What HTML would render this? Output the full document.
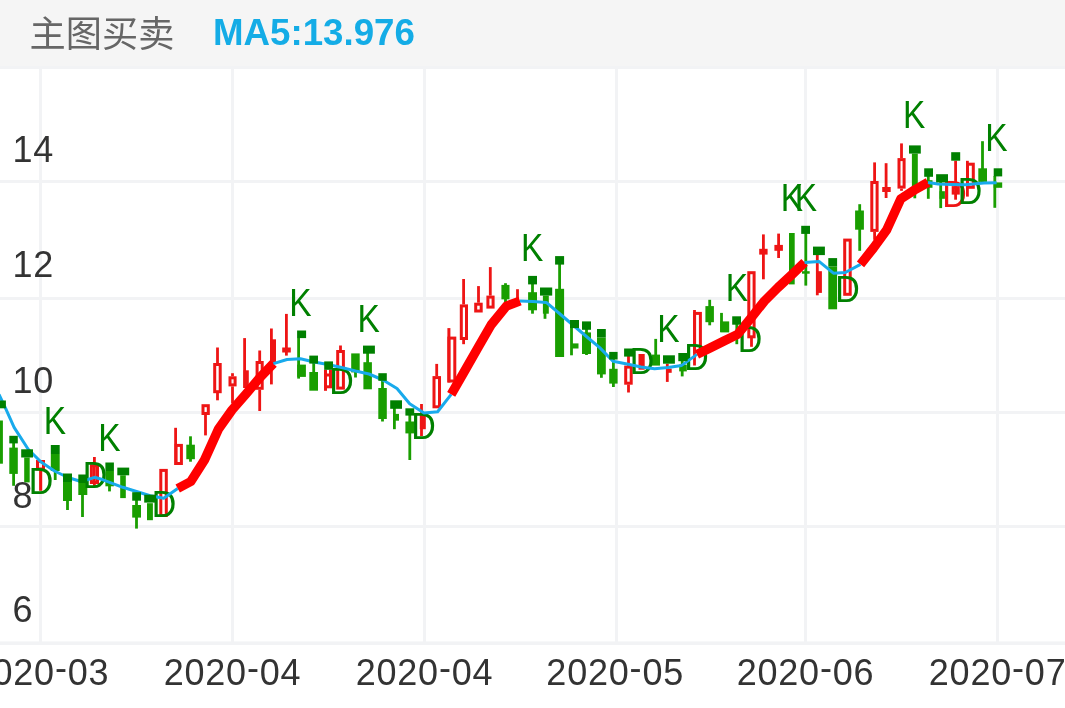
<!DOCTYPE html>
<html lang="zh-CN">
<head>
<meta charset="utf-8">
<title>主图买卖</title>
<style>
html,body{margin:0;padding:0;background:#fff;}
body{width:1065px;height:708px;overflow:hidden;position:relative;font-family:"Liberation Sans","Noto Sans CJK SC",sans-serif;}
#hdr{position:absolute;left:0;top:0;width:1065px;height:68px;background:#f5f5f5;}
#hdr .t{position:absolute;left:29.6px;top:9px;font-size:36.2px;line-height:52px;color:#666;white-space:nowrap;font-family:"Liberation Sans","Noto Sans CJK SC",sans-serif;}
#hdr .m{position:absolute;left:213px;top:7px;font-size:36.7px;line-height:52px;color:#14ace6;font-weight:bold;white-space:nowrap;}
svg{position:absolute;left:0;top:0;}
.ax{font-family:"Liberation Sans",sans-serif;font-size:36px;fill:#333;letter-spacing:0.8px;}
.kd{font-family:"Liberation Sans",sans-serif;font-size:38px;text-anchor:middle;}
</style>
</head>
<body>
<div id="hdr"><span class="t">主图买卖</span><span class="m">MA5:13.976</span></div>
<svg width="1065" height="708" viewBox="0 0 1065 708">
<g id="grid">
<rect x="39" y="66" width="3" height="578" fill="#f2f3f5"/>
<rect x="231" y="66" width="3" height="578" fill="#f2f3f5"/>
<rect x="423" y="66" width="3" height="578" fill="#f2f3f5"/>
<rect x="615" y="66" width="3" height="578" fill="#f2f3f5"/>
<rect x="804" y="66" width="3" height="578" fill="#f2f3f5"/>
<rect x="996" y="66" width="3" height="578" fill="#f2f3f5"/>
<rect x="0" y="66" width="1065" height="3" fill="#f2f3f5"/>
<rect x="0" y="180" width="1065" height="3" fill="#f2f3f5"/>
<rect x="0" y="297" width="1065" height="3" fill="#f2f3f5"/>
<rect x="0" y="411" width="1065" height="3" fill="#f2f3f5"/>
<rect x="0" y="525" width="1065" height="3" fill="#f2f3f5"/>
<rect x="0" y="641.4" width="1065" height="3.6" fill="#f2f3f5"/>
</g>
<g id="xlabels">
<text x="40.5" y="684.5" class="ax" text-anchor="middle">2020<tspan dy="-4.3">-</tspan><tspan dy="4.3">03</tspan></text>
<text x="232.5" y="684.5" class="ax" text-anchor="middle">2020<tspan dy="-4.3">-</tspan><tspan dy="4.3">04</tspan></text>
<text x="424.5" y="684.5" class="ax" text-anchor="middle">2020<tspan dy="-4.3">-</tspan><tspan dy="4.3">04</tspan></text>
<text x="615.2" y="684.5" class="ax" text-anchor="middle">2020<tspan dy="-4.3">-</tspan><tspan dy="4.3">05</tspan></text>
<text x="805.5" y="684.5" class="ax" text-anchor="middle">2020<tspan dy="-4.3">-</tspan><tspan dy="4.3">06</tspan></text>
<text x="1066.5" y="684.5" class="ax" text-anchor="end">2020<tspan dy="-4.3">-</tspan><tspan dy="4.3">07</tspan></text>
</g>
<g id="candles" shape-rendering="auto">
<rect x="-4.0" y="420.5" width="6.9" height="43.2" fill="rgb(25,158,0)"/>
<rect x="12.2" y="443.0" width="2.8" height="42.8" fill="rgb(25,158,0)"/>
<rect x="9.3" y="447.6" width="8.5" height="26.3" fill="rgb(25,158,0)"/>
<rect x="24.2" y="457.5" width="5.5" height="24.9" fill="rgb(25,158,0)"/>
<rect x="37.5" y="461.5" width="6.0" height="7.5" fill="none" stroke="rgb(238,21,21)" stroke-width="3"/>
<rect x="39.1" y="470.0" width="3.1" height="20.8" fill="rgb(238,21,21)"/>
<rect x="50.8" y="454.0" width="8.9" height="17.0" fill="rgb(25,158,0)"/>
<rect x="53.8" y="471.0" width="2.8" height="9.0" fill="rgb(25,158,0)"/>
<rect x="63.0" y="482.0" width="9.0" height="19.0" fill="rgb(25,158,0)"/>
<rect x="66.1" y="501.0" width="2.8" height="9.0" fill="rgb(25,158,0)"/>
<rect x="78.3" y="483.0" width="9.0" height="12.0" fill="rgb(25,158,0)"/>
<rect x="81.1" y="495.0" width="2.8" height="22.0" fill="rgb(25,158,0)"/>
<rect x="93.0" y="457.0" width="2.8" height="29.4" fill="rgb(238,21,21)"/>
<rect x="91.4" y="465.7" width="6.1" height="16.8" fill="none" stroke="rgb(238,21,21)" stroke-width="3"/>
<rect x="105.4" y="471.0" width="8.5" height="15.3" fill="rgb(25,158,0)"/>
<rect x="108.1" y="486.0" width="2.8" height="5.4" fill="rgb(25,158,0)"/>
<rect x="120.2" y="475.3" width="5.6" height="22.8" fill="rgb(25,158,0)"/>
<rect x="135.1" y="500.0" width="2.8" height="28.6" fill="rgb(25,158,0)"/>
<rect x="132.2" y="505.0" width="8.8" height="12.6" fill="rgb(25,158,0)"/>
<rect x="147.0" y="503.2" width="5.9" height="17.0" fill="rgb(25,158,0)"/>
<rect x="160.8" y="470.4" width="5.5" height="45.1" fill="none" stroke="rgb(238,21,21)" stroke-width="3"/>
<rect x="174.2" y="427.8" width="2.8" height="37.2" fill="rgb(238,21,21)"/>
<rect x="176.1" y="445.4" width="5.3" height="18.1" fill="none" stroke="rgb(238,21,21)" stroke-width="3"/>
<rect x="189.1" y="436.3" width="2.8" height="25.4" fill="rgb(25,158,0)"/>
<rect x="186.3" y="444.7" width="8.6" height="14.5" fill="rgb(25,158,0)"/>
<rect x="203.0" y="405.7" width="5.3" height="7.8" fill="none" stroke="rgb(238,21,21)" stroke-width="3"/>
<rect x="204.1" y="415.0" width="2.8" height="20.4" fill="rgb(238,21,21)"/>
<rect x="216.1" y="347.5" width="2.8" height="15.5" fill="rgb(238,21,21)"/>
<rect x="214.7" y="364.5" width="5.5" height="27.2" fill="none" stroke="rgb(238,21,21)" stroke-width="3"/>
<rect x="216.1" y="393.0" width="2.8" height="7.3" fill="rgb(238,21,21)"/>
<rect x="231.1" y="373.2" width="2.8" height="3.1" fill="rgb(238,21,21)"/>
<rect x="230.0" y="377.8" width="5.1" height="7.1" fill="none" stroke="rgb(238,21,21)" stroke-width="3"/>
<rect x="231.1" y="386.4" width="2.8" height="17.0" fill="rgb(238,21,21)"/>
<rect x="243.2" y="338.1" width="2.8" height="49.9" fill="rgb(238,21,21)"/>
<rect x="243.5" y="370.3" width="5.3" height="17.7" fill="rgb(238,21,21)"/>
<rect x="258.3" y="350.5" width="2.8" height="10.5" fill="rgb(238,21,21)"/>
<rect x="257.1" y="362.5" width="5.1" height="25.8" fill="none" stroke="rgb(238,21,21)" stroke-width="3"/>
<rect x="258.3" y="389.8" width="2.8" height="21.2" fill="rgb(238,21,21)"/>
<rect x="270.0" y="328.5" width="2.8" height="55.9" fill="rgb(238,21,21)"/>
<rect x="270.3" y="339.3" width="5.7" height="24.7" fill="rgb(238,21,21)"/>
<rect x="285.0" y="313.9" width="2.8" height="41.7" fill="rgb(238,21,21)"/>
<rect x="282.2" y="347.5" width="8.6" height="5.0" fill="rgb(238,21,21)"/>
<rect x="297.2" y="338.0" width="2.8" height="40.6" fill="rgb(25,158,0)"/>
<rect x="297.2" y="364.6" width="8.7" height="12.3" fill="rgb(25,158,0)"/>
<rect x="312.3" y="363.0" width="2.8" height="9.0" fill="rgb(25,158,0)"/>
<rect x="309.3" y="372.0" width="8.7" height="18.7" fill="rgb(25,158,0)"/>
<rect x="325.5" y="375.0" width="5.0" height="11.8" fill="none" stroke="rgb(238,21,21)" stroke-width="3"/>
<rect x="324.0" y="369.7" width="3.0" height="21.1" fill="rgb(238,21,21)"/>
<rect x="329.0" y="369.7" width="3.0" height="4.3" fill="rgb(238,21,21)"/>
<rect x="339.1" y="345.5" width="2.8" height="4.5" fill="rgb(238,21,21)"/>
<rect x="337.7" y="351.5" width="5.7" height="36.6" fill="none" stroke="rgb(238,21,21)" stroke-width="3"/>
<rect x="351.2" y="353.4" width="8.5" height="19.0" fill="rgb(25,158,0)"/>
<rect x="354.1" y="372.0" width="2.8" height="5.5" fill="rgb(25,158,0)"/>
<rect x="366.2" y="353.0" width="2.8" height="10.0" fill="rgb(25,158,0)"/>
<rect x="363.4" y="362.2" width="8.5" height="27.1" fill="rgb(25,158,0)"/>
<rect x="381.1" y="380.0" width="2.8" height="41.5" fill="rgb(25,158,0)"/>
<rect x="378.3" y="388.0" width="8.5" height="31.0" fill="rgb(25,158,0)"/>
<rect x="393.0" y="408.0" width="2.8" height="21.2" fill="rgb(25,158,0)"/>
<rect x="394.0" y="413.9" width="5.0" height="6.8" fill="rgb(25,158,0)"/>
<rect x="408.4" y="415.0" width="2.8" height="45.0" fill="rgb(25,158,0)"/>
<rect x="405.4" y="421.5" width="8.8" height="11.9" fill="rgb(25,158,0)"/>
<rect x="420.1" y="404.0" width="2.8" height="32.0" fill="rgb(238,21,21)"/>
<rect x="419.8" y="414.7" width="6.0" height="14.5" fill="rgb(238,21,21)"/>
<rect x="435.3" y="363.9" width="2.8" height="12.2" fill="rgb(238,21,21)"/>
<rect x="434.0" y="377.6" width="5.5" height="29.2" fill="none" stroke="rgb(238,21,21)" stroke-width="3"/>
<rect x="447.4" y="328.1" width="3.0" height="54.4" fill="rgb(238,21,21)"/>
<rect x="448.9" y="338.1" width="5.9" height="42.9" fill="none" stroke="rgb(238,21,21)" stroke-width="3"/>
<rect x="462.2" y="279.0" width="2.8" height="25.4" fill="rgb(238,21,21)"/>
<rect x="461.3" y="305.9" width="5.2" height="32.6" fill="none" stroke="rgb(238,21,21)" stroke-width="3"/>
<rect x="462.2" y="340.0" width="2.8" height="4.2" fill="rgb(238,21,21)"/>
<rect x="477.1" y="286.1" width="2.8" height="16.6" fill="rgb(238,21,21)"/>
<rect x="475.7" y="304.2" width="5.5" height="6.8" fill="none" stroke="rgb(238,21,21)" stroke-width="3"/>
<rect x="488.9" y="267.1" width="2.8" height="28.5" fill="rgb(238,21,21)"/>
<rect x="487.9" y="297.1" width="5.2" height="10.0" fill="none" stroke="rgb(238,21,21)" stroke-width="3"/>
<rect x="504.1" y="283.2" width="2.8" height="20.4" fill="rgb(25,158,0)"/>
<rect x="501.4" y="284.9" width="8.1" height="14.4" fill="rgb(25,158,0)"/>
<rect x="516.1" y="289.2" width="2.8" height="11.8" fill="rgb(238,21,21)"/>
<rect x="531.1" y="284.0" width="2.8" height="29.7" fill="rgb(25,158,0)"/>
<rect x="528.1" y="292.2" width="8.9" height="18.1" fill="rgb(25,158,0)"/>
<rect x="542.9" y="295.6" width="5.9" height="18.1" fill="rgb(25,158,0)"/>
<rect x="543.6" y="313.0" width="2.8" height="5.8" fill="rgb(25,158,0)"/>
<rect x="558.2" y="264.0" width="2.8" height="25.0" fill="rgb(25,158,0)"/>
<rect x="555.1" y="288.8" width="9.0" height="68.2" fill="rgb(25,158,0)"/>
<rect x="570.1" y="328.0" width="2.8" height="27.3" fill="rgb(25,158,0)"/>
<rect x="571.0" y="343.4" width="7.5" height="5.1" fill="rgb(25,158,0)"/>
<rect x="582.0" y="332.4" width="9.0" height="21.6" fill="rgb(25,158,0)"/>
<rect x="585.1" y="329.0" width="2.8" height="26.0" fill="rgb(25,158,0)"/>
<rect x="597.0" y="337.5" width="8.8" height="36.9" fill="rgb(25,158,0)"/>
<rect x="600.0" y="374.0" width="2.8" height="3.8" fill="rgb(25,158,0)"/>
<rect x="612.0" y="359.0" width="2.8" height="28.0" fill="rgb(25,158,0)"/>
<rect x="609.2" y="368.8" width="8.4" height="14.8" fill="rgb(25,158,0)"/>
<rect x="627.1" y="356.0" width="2.8" height="10.0" fill="rgb(238,21,21)"/>
<rect x="625.7" y="367.1" width="5.5" height="16.1" fill="none" stroke="rgb(238,21,21)" stroke-width="3"/>
<rect x="627.1" y="384.5" width="2.8" height="8.0" fill="rgb(238,21,21)"/>
<rect x="638.5" y="354.0" width="6.2" height="15.7" fill="rgb(238,21,21)"/>
<rect x="654.3" y="338.9" width="2.8" height="16.1" fill="rgb(25,158,0)"/>
<rect x="652.0" y="354.6" width="8.0" height="11.0" fill="rgb(25,158,0)"/>
<rect x="665.9" y="363.7" width="2.8" height="18.2" fill="rgb(238,21,21)"/>
<rect x="666.2" y="368.6" width="5.5" height="4.2" fill="rgb(238,21,21)"/>
<rect x="680.8" y="361.0" width="2.8" height="15.4" fill="rgb(25,158,0)"/>
<rect x="679.2" y="364.6" width="7.6" height="6.8" fill="rgb(25,158,0)"/>
<rect x="693.1" y="310.0" width="2.8" height="55.5" fill="rgb(238,21,21)"/>
<rect x="694.6" y="313.4" width="5.8" height="38.1" fill="none" stroke="rgb(238,21,21)" stroke-width="3"/>
<rect x="708.3" y="299.8" width="2.8" height="25.5" fill="rgb(25,158,0)"/>
<rect x="705.4" y="306.1" width="8.5" height="16.1" fill="rgb(25,158,0)"/>
<rect x="720.1" y="312.9" width="2.8" height="19.1" fill="rgb(25,158,0)"/>
<rect x="720.3" y="321.4" width="8.9" height="11.0" fill="rgb(25,158,0)"/>
<rect x="735.4" y="324.0" width="2.8" height="20.2" fill="rgb(25,158,0)"/>
<rect x="748.8" y="272.7" width="5.3" height="64.1" fill="none" stroke="rgb(238,21,21)" stroke-width="3"/>
<rect x="750.1" y="338.0" width="2.8" height="8.8" fill="rgb(238,21,21)"/>
<rect x="762.0" y="234.4" width="2.8" height="44.9" fill="rgb(238,21,21)"/>
<rect x="759.2" y="248.8" width="8.4" height="5.8" fill="rgb(238,21,21)"/>
<rect x="777.2" y="233.6" width="2.8" height="24.4" fill="rgb(238,21,21)"/>
<rect x="774.4" y="244.9" width="8.5" height="5.9" fill="rgb(238,21,21)"/>
<rect x="789.0" y="233.0" width="5.7" height="51.4" fill="rgb(25,158,0)"/>
<rect x="804.4" y="233.0" width="2.8" height="52.6" fill="rgb(25,158,0)"/>
<rect x="802.0" y="271.2" width="7.7" height="2.5" fill="rgb(25,158,0)"/>
<rect x="815.9" y="255.0" width="2.8" height="40.3" fill="rgb(238,21,21)"/>
<rect x="816.4" y="271.2" width="5.5" height="21.7" fill="rgb(238,21,21)"/>
<rect x="828.3" y="266.4" width="8.8" height="42.9" fill="rgb(25,158,0)"/>
<rect x="844.7" y="240.1" width="5.5" height="54.2" fill="none" stroke="rgb(238,21,21)" stroke-width="3"/>
<rect x="858.3" y="204.2" width="2.8" height="46.6" fill="rgb(25,158,0)"/>
<rect x="855.1" y="210.5" width="8.8" height="19.2" fill="rgb(25,158,0)"/>
<rect x="873.2" y="162.4" width="2.8" height="18.6" fill="rgb(238,21,21)"/>
<rect x="871.8" y="182.5" width="5.3" height="47.9" fill="none" stroke="rgb(238,21,21)" stroke-width="3"/>
<rect x="873.2" y="232.0" width="2.8" height="7.8" fill="rgb(238,21,21)"/>
<rect x="884.7" y="163.2" width="2.8" height="34.8" fill="rgb(238,21,21)"/>
<rect x="882.2" y="187.0" width="8.5" height="5.0" fill="rgb(238,21,21)"/>
<rect x="900.1" y="143.4" width="2.8" height="14.6" fill="rgb(238,21,21)"/>
<rect x="899.0" y="159.6" width="5.1" height="27.5" fill="none" stroke="rgb(238,21,21)" stroke-width="3"/>
<rect x="900.1" y="188.6" width="2.8" height="2.2" fill="rgb(238,21,21)"/>
<rect x="911.9" y="153.6" width="5.9" height="36.4" fill="rgb(25,158,0)"/>
<rect x="913.4" y="190.0" width="2.8" height="8.3" fill="rgb(25,158,0)"/>
<rect x="926.9" y="176.0" width="2.8" height="22.8" fill="rgb(25,158,0)"/>
<rect x="924.5" y="180.2" width="8.0" height="7.6" fill="rgb(25,158,0)"/>
<rect x="939.3" y="182.0" width="2.8" height="26.1" fill="rgb(25,158,0)"/>
<rect x="939.5" y="191.2" width="5.4" height="7.6" fill="rgb(25,158,0)"/>
<rect x="954.2" y="160.7" width="2.8" height="39.0" fill="rgb(238,21,21)"/>
<rect x="953.2" y="187.6" width="5.1" height="5.5" fill="none" stroke="rgb(238,21,21)" stroke-width="3"/>
<rect x="966.0" y="160.8" width="2.8" height="35.8" fill="rgb(238,21,21)"/>
<rect x="967.5" y="164.2" width="5.8" height="23.1" fill="none" stroke="rgb(238,21,21)" stroke-width="3"/>
<rect x="981.1" y="141.2" width="2.8" height="40.8" fill="rgb(25,158,0)"/>
<rect x="978.3" y="168.3" width="8.7" height="13.6" fill="rgb(25,158,0)"/>
<rect x="993.4" y="176.0" width="2.8" height="31.8" fill="rgb(25,158,0)"/>
<rect x="993.7" y="182.4" width="8.5" height="5.4" fill="rgb(25,158,0)"/>
</g>
<g id="marks">
<text transform="translate(54.9,433.7) scale(0.88,1)" class="kd" fill="rgb(0,128,0)">K</text>
<text transform="translate(109.4,451.2) scale(0.88,1)" class="kd" fill="rgb(0,128,0)">K</text>
<text transform="translate(300.3,315.6) scale(0.88,1)" class="kd" fill="rgb(0,128,0)">K</text>
<text transform="translate(368.6,332) scale(0.88,1)" class="kd" fill="rgb(0,128,0)">K</text>
<text transform="translate(532.1,260.7) scale(0.88,1)" class="kd" fill="rgb(0,128,0)">K</text>
<text transform="translate(668.4,341.7) scale(0.88,1)" class="kd" fill="rgb(0,128,0)">K</text>
<text transform="translate(736.8,301.4) scale(0.88,1)" class="kd" fill="rgb(0,128,0)">K</text>
<text transform="translate(791.8,210.8) scale(0.88,1)" class="kd" fill="rgb(0,128,0)">K</text>
<text transform="translate(805.8,210.8) scale(0.88,1)" class="kd" fill="rgb(0,128,0)">K</text>
<text transform="translate(914.1,127.6) scale(0.88,1)" class="kd" fill="rgb(0,128,0)">K</text>
<text transform="translate(996.5,150.5) scale(0.88,1)" class="kd" fill="rgb(0,128,0)">K</text>
<text transform="translate(41,494.2) scale(0.91,1)" class="kd" style="font-size:37.3px" fill="rgb(0,128,0)">D</text>
<text transform="translate(95,488.3) scale(0.91,1)" class="kd" style="font-size:37.3px" fill="rgb(0,128,0)">D</text>
<text transform="translate(164,517.1) scale(0.91,1)" class="kd" style="font-size:37.3px" fill="rgb(0,128,0)">D</text>
<text transform="translate(341.5,393.7) scale(0.91,1)" class="kd" style="font-size:37.3px" fill="rgb(0,128,0)">D</text>
<text transform="translate(423.5,438.8) scale(0.91,1)" class="kd" style="font-size:37.3px" fill="rgb(0,128,0)">D</text>
<text transform="translate(641.9,373.9) scale(0.91,1)" class="kd" style="font-size:37.3px" fill="rgb(0,128,0)">D</text>
<text transform="translate(696.5,370.0) scale(0.91,1)" class="kd" style="font-size:37.3px" fill="rgb(0,128,0)">D</text>
<text transform="translate(750,351.7) scale(0.91,1)" class="kd" style="font-size:37.3px" fill="rgb(0,128,0)">D</text>
<text transform="translate(847.5,302.0) scale(0.91,1)" class="kd" style="font-size:37.3px" fill="rgb(0,128,0)">D</text>
<text transform="translate(954.5,206.7) scale(0.91,1)" class="kd" style="font-size:37.3px" fill="rgb(238,21,21)">D</text>
<text transform="translate(970,204.2) scale(0.91,1)" class="kd" style="font-size:37.3px" fill="rgb(0,128,0)">D</text>
</g>
<g id="ma">
<polyline points="-1,394.5 5.6,408.4 14.1,427.4 28.2,449.3 41,462 54.5,471 68,477.5 81,481.5 88,479.5 94.6,477.3 103,479.8 122.8,487.3 136.5,491.5 150.2,495.8 163.7,498.2 177.7,488.5" fill="none" stroke="#18aaec" stroke-width="3" stroke-linejoin="round"/>
<polyline points="177.7,488.5 190.8,481.5 204.5,460 218.5,429 232,410 246,394 259.5,378 273.4,363.6" fill="none" stroke="rgb(255,0,0)" stroke-width="9.3" stroke-linejoin="round"/>
<polyline points="273.4,363.6 287,359.5 300.5,358.8 314,362 328,364.5 341.5,367.5 355.5,371 369,374 383,380 397,388.5 409.7,403.7 424,413 437.6,411.7 451.2,394.4" fill="none" stroke="#18aaec" stroke-width="3" stroke-linejoin="round"/>
<polyline points="451.2,394.4 465,370.4 478.5,346.8 491.2,324.7 506.4,306.1 520,301" fill="none" stroke="rgb(255,0,0)" stroke-width="9.3" stroke-linejoin="round"/>
<polyline points="520,301 533,301.5 546.3,302.4 560,314 573.5,325.5 587,337 599.7,347.6 613,361.2 627,364 641,367 654.6,368.8 668,367.5 681.7,365.4 697,354.4" fill="none" stroke="#18aaec" stroke-width="3" stroke-linejoin="round"/>
<polyline points="697,354.4 710,348 724,341 737.6,334.4 751,318 764.5,301 778,287.5 791.5,275 804.6,262.4" fill="none" stroke="rgb(255,0,0)" stroke-width="9.3" stroke-linejoin="round"/>
<polyline points="804.6,262.4 819,261.4 833.4,273.2 845.3,272.5 860.5,264.4" fill="none" stroke="#18aaec" stroke-width="3" stroke-linejoin="round"/>
<polyline points="860.5,264.4 873.5,248 886.8,229.7 900.8,198.8 914.5,190 928,182.4" fill="none" stroke="rgb(255,0,0)" stroke-width="9.3" stroke-linejoin="round"/>
<polyline points="928,182.4 938.1,184.1 951.5,184.5 965.3,184.7 983.9,183.1 996.6,182.7" fill="none" stroke="#18aaec" stroke-width="3" stroke-linejoin="round"/>
</g>
<g id="markers">
<rect x="-6.0" y="400.5" width="11.9" height="7.8" fill="rgb(0,128,0)"/>
<rect x="9.3" y="435.8" width="8.5" height="7.6" fill="rgb(0,128,0)"/>
<rect x="21.2" y="449.3" width="11.8" height="8.2" fill="rgb(0,128,0)"/>
<rect x="50.8" y="445.0" width="8.9" height="9.0" fill="rgb(0,128,0)"/>
<rect x="63.0" y="473.5" width="9.0" height="8.5" fill="rgb(0,128,0)"/>
<rect x="78.3" y="474.5" width="9.0" height="8.5" fill="rgb(0,128,0)"/>
<rect x="105.4" y="462.5" width="8.5" height="8.5" fill="rgb(0,128,0)"/>
<rect x="117.3" y="467.6" width="11.9" height="7.7" fill="rgb(0,128,0)"/>
<rect x="132.2" y="492.2" width="8.8" height="8.5" fill="rgb(0,128,0)"/>
<rect x="144.2" y="494.7" width="11.9" height="7.9" fill="rgb(0,128,0)"/>
<rect x="297.1" y="330.5" width="9.0" height="7.6" fill="rgb(0,128,0)"/>
<rect x="309.3" y="355.6" width="8.7" height="8.0" fill="rgb(0,128,0)"/>
<rect x="324.2" y="361.4" width="8.8" height="8.4" fill="rgb(0,128,0)"/>
<rect x="363.0" y="345.6" width="11.9" height="8.1" fill="rgb(0,128,0)"/>
<rect x="378.3" y="373.2" width="8.5" height="7.6" fill="rgb(0,128,0)"/>
<rect x="390.2" y="400.3" width="11.8" height="8.5" fill="rgb(0,128,0)"/>
<rect x="405.4" y="408.3" width="8.8" height="7.3" fill="rgb(0,128,0)"/>
<rect x="528.1" y="275.9" width="8.9" height="8.5" fill="rgb(0,128,0)"/>
<rect x="540.0" y="287.5" width="12.2" height="8.1" fill="rgb(0,128,0)"/>
<rect x="555.1" y="256.1" width="9.0" height="8.5" fill="rgb(0,128,0)"/>
<rect x="570.0" y="320.0" width="9.0" height="8.1" fill="rgb(0,128,0)"/>
<rect x="582.0" y="321.4" width="9.0" height="8.4" fill="rgb(0,128,0)"/>
<rect x="597.0" y="329.0" width="8.8" height="8.5" fill="rgb(0,128,0)"/>
<rect x="609.2" y="351.9" width="8.4" height="7.6" fill="rgb(0,128,0)"/>
<rect x="624.1" y="348.5" width="9.3" height="8.1" fill="rgb(0,128,0)"/>
<rect x="663.0" y="355.3" width="11.9" height="8.4" fill="rgb(0,128,0)"/>
<rect x="678.3" y="353.0" width="9.3" height="8.2" fill="rgb(0,128,0)"/>
<rect x="732.2" y="316.3" width="8.8" height="8.4" fill="rgb(0,128,0)"/>
<rect x="801.2" y="225.8" width="8.8" height="8.1" fill="rgb(0,128,0)"/>
<rect x="813.0" y="246.6" width="11.9" height="8.5" fill="rgb(0,128,0)"/>
<rect x="828.3" y="258.1" width="8.8" height="8.3" fill="rgb(0,128,0)"/>
<rect x="909.0" y="145.4" width="11.8" height="8.2" fill="rgb(0,128,0)"/>
<rect x="924.2" y="168.3" width="8.8" height="8.5" fill="rgb(0,128,0)"/>
<rect x="936.1" y="174.2" width="11.9" height="8.2" fill="rgb(0,128,0)"/>
<rect x="951.2" y="152.2" width="9.0" height="8.5" fill="rgb(0,128,0)"/>
<rect x="993.7" y="168.3" width="8.5" height="8.1" fill="rgb(0,128,0)"/>
</g>
<g id="ylabels">
<text x="12.5" y="161.5" class="ax">14</text>
<text x="12.5" y="277" class="ax">12</text>
<text x="12.5" y="392.5" class="ax">10</text>
<text x="12.5" y="508" class="ax">8</text>
<text x="12.5" y="622" class="ax">6</text>
</g>
</svg>
</body>
</html>
